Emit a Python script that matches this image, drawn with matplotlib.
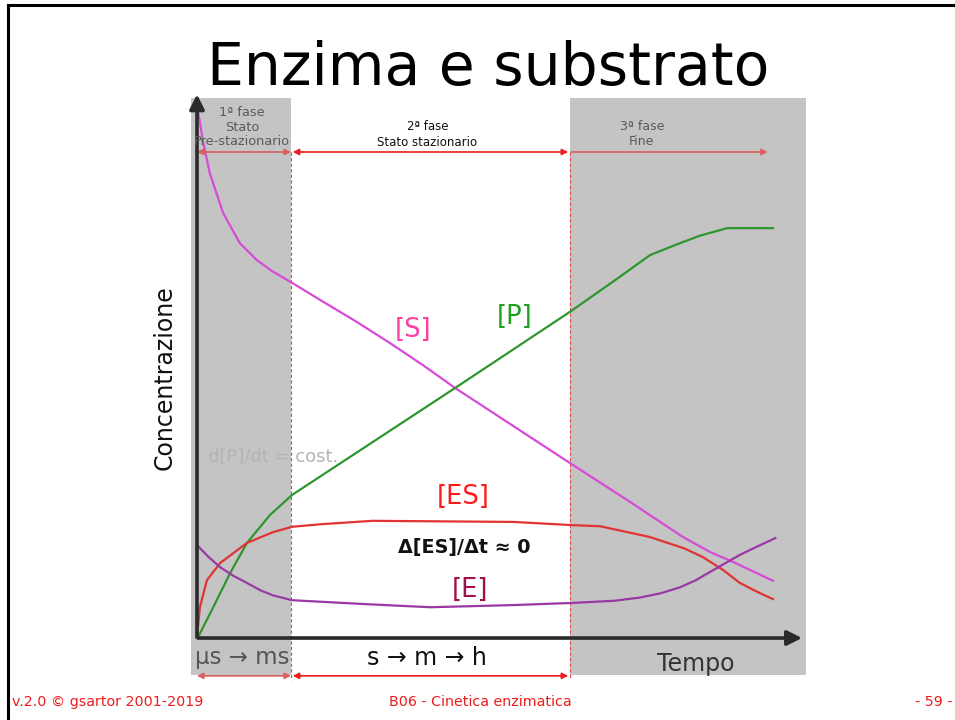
import matplotlib
matplotlib.use("Agg")
import matplotlib.pyplot as plt
from matplotlib.lines import Line2D
from matplotlib.patches import Rectangle

# time axis in arbitrary units (0-100), concentration in arbitrary units (0-100)
T_PHASE1 = 16.2   # end of pre-steady state
T_PHASE2 = 64.3   # end of steady state

s_t = [0.2, 1.0, 2.2, 4.5, 7.4, 10.3, 13.0, 16.2, 21.7, 27.6, 33.3, 39.0, 44.5, 52.2, 64.3,
       74.1, 83.8, 88.5, 92.4, 99.3]
s_c = [97.4, 92.2, 86.1, 78.7, 73.1, 70.0, 67.9, 65.9, 62.3, 58.5, 54.6, 50.5, 46.3, 40.9, 32.4,
       25.6, 18.7, 15.9, 14.1, 10.6]

p_t = [0.2, 2.8, 5.7, 8.6, 12.6, 16.4, 44.5, 64.3, 72.0, 78.1, 82.5, 86.7, 91.4, 99.3]
p_c = [0.2, 5.7, 12.0, 17.6, 22.8, 26.5, 46.3, 60.4, 66.2, 70.9, 72.8, 74.5, 75.9, 75.9]

es_t = [0.0, 0.5, 1.7, 4.0, 8.6, 13.1, 16.4, 21.7, 30.3, 54.5, 64.8, 69.5, 78.1, 84.0, 87.2,
        90.7, 93.6, 96.5, 99.3]
es_c = [0.2, 5.7, 10.7, 13.9, 17.6, 19.6, 20.6, 21.1, 21.7, 21.5, 20.9, 20.7, 18.7, 16.6, 15.0,
        12.6, 10.2, 8.6, 7.2]

e_t = [0.0, 2.0, 4.0, 6.3, 8.6, 11.0, 13.1, 16.4, 28.6, 40.2, 54.5, 64.8, 72.0, 76.4, 80.0,
       83.3, 86.0, 88.4, 91.0, 93.6, 96.7, 99.7]
e_c = [17.2, 15.0, 13.1, 11.5, 10.2, 8.8, 7.9, 7.0, 6.3, 5.7, 6.1, 6.5, 6.9, 7.5, 8.3,
       9.4, 10.7, 12.2, 13.8, 15.4, 17.0, 18.5]

GRAY = "#c4c4c4"
RED = "#ee1c1c"
MUTED_RED = "#d86060"

fig = plt.figure(figsize=(9.55, 7.2), dpi=100)
ax = fig.add_axes([185 / 955, 35 / 720, 625 / 955, 595 / 720])
ax.set_xlim(-2.07, 105.69)
ax.set_ylim(-8.70, 101.48)
ax.axis("off")

# shaded phases (pre-steady state and final phase)
ax.add_patch(Rectangle((-1.03, -6.85), T_PHASE1 + 1.03, 106.85, color=GRAY, lw=0, zorder=0))
ax.add_patch(Rectangle((T_PHASE2, -6.85), 105.0 - T_PHASE2, 106.85, color=GRAY, lw=0, zorder=0))

# phase boundaries
for tb in (T_PHASE1, T_PHASE2):
    ax.plot([tb, tb], [90.0, -7.8], ls=(0, (3, 2)), lw=0.8, color="#e04848", zorder=1)

# curves
lw = 1.6
ax.plot(s_t, s_c, color="#d84ad8", lw=lw, zorder=3)
ax.plot(p_t, p_c, color="#2f962f", lw=lw, zorder=3)
ax.plot(es_t, es_c, color="#e03434", lw=lw, zorder=3)
ax.plot(e_t, e_c, color="#9a38a4", lw=lw, zorder=3)

# axes with arrows
ax.annotate("", xy=(0, 101.2), xytext=(0, -0.4),
            arrowprops=dict(arrowstyle="-|>", mutation_scale=22, lw=2.6, color="#2a2a2a"), zorder=4)
ax.annotate("", xy=(104.8, 0), xytext=(-0.3, 0),
            arrowprops=dict(arrowstyle="-|>", mutation_scale=22, lw=2.6, color="#2a2a2a"), zorder=4)

# phase spans (top)
arr = dict(mutation_scale=9, lw=1.2, shrinkA=0, shrinkB=0)
ax.annotate("", xy=(0, 90.0), xytext=(T_PHASE1, 90.0),
            arrowprops=dict(arrowstyle="<|-|>", color=MUTED_RED, **arr))
ax.annotate("", xy=(T_PHASE1 + 0.3, 90.0), xytext=(T_PHASE2 - 0.3, 90.0),
            arrowprops=dict(arrowstyle="<|-|>", color=RED, **arr))
ax.annotate("", xy=(T_PHASE2 + 0.3, 90.0), xytext=(98.4, 90.0),
            arrowprops=dict(arrowstyle="<|-", color=MUTED_RED, **arr))

# phase spans (bottom)
ax.annotate("", xy=(0, -7.0), xytext=(T_PHASE1, -7.0),
            arrowprops=dict(arrowstyle="<|-|>", color=MUTED_RED, **arr))
ax.annotate("", xy=(T_PHASE1 + 0.3, -7.0), xytext=(T_PHASE2 - 0.3, -7.0),
            arrowprops=dict(arrowstyle="<|-|>", color=RED, **arr))

ax.text(7.8, 94.6, "1ª fase\nStato\nPre-stazionario", ha="center", va="center",
        fontsize=9.3, color="#5a5a5a", linespacing=1.12, zorder=5)
ax.text(39.7, 93.3, "2ª fase\nStato stazionario", ha="center", va="center",
        fontsize=8.5, color="#111111", linespacing=1.3, zorder=5)
ax.text(76.7, 93.3, "3ª fase\nFine", ha="center", va="center",
        fontsize=9, color="#5a5a5a", linespacing=1.2, zorder=5)

ax.text(7.8, -3.7, "μs → ms", ha="center", va="center", fontsize=16.5, color="#555555")
ax.text(39.7, -3.7, "s → m → h", ha="center", va="center", fontsize=17, color="#111111")
ax.text(86.0, -4.8, "Tempo", ha="center", va="center", fontsize=17, color="#333333")

ax.text(1.9, 33.5, "d[P]/dt = cost.", ha="left", va="center", fontsize=13, color="#b4b4b4", zorder=2)

ax.text(37.2, 57.0, "[S]", ha="center", va="center", fontsize=18.5, color="#ff3fa0", zorder=5)
ax.text(54.8, 59.4, "[P]", ha="center", va="center", fontsize=18.5, color="#1f9f1f", zorder=5)
ax.text(45.9, 26.1, "[ES]", ha="center", va="center", fontsize=18.5, color="#ff1a1a", zorder=5)
ax.text(46.0, 16.7, "Δ[ES]/Δt ≈ 0", ha="center", va="center", fontsize=13.8,
        fontweight="bold", color="#111111", zorder=5)
ax.text(47.1, 8.9, "[E]", ha="center", va="center", fontsize=18.5, color="#a0104c", zorder=5)

fig.text(488 / 955, 1 - 68 / 720, "Enzima e substrato", ha="center", va="center", fontsize=42)
fig.text(165 / 955, 1 - 378 / 720, "Concentrazione", ha="center", va="center",
         rotation=90, fontsize=17, color="#111111")

# slide frame and footer
fig.add_artist(Line2D([8 / 955, 8 / 955], [0, 1 - 5 / 720], lw=2.2, color="black"))
fig.add_artist(Line2D([8 / 955, 1], [1 - 5 / 720, 1 - 5 / 720], lw=2.2, color="black"))

foot = dict(fontsize=10.3, color="#ee1c1c", va="center",
            family=["Liberation Sans Narrow", "DejaVu Sans"])
fig.text(12 / 955, 1 - 702 / 720, "v.2.0 © gsartor 2001-2019", ha="left", **foot)
fig.text(480 / 955, 1 - 702 / 720, "B06 - Cinetica enzimatica", ha="center", **foot)
fig.text(952 / 955, 1 - 702 / 720, "- 59 -", ha="right", **foot)

fig.savefig("out.png", dpi=100)
